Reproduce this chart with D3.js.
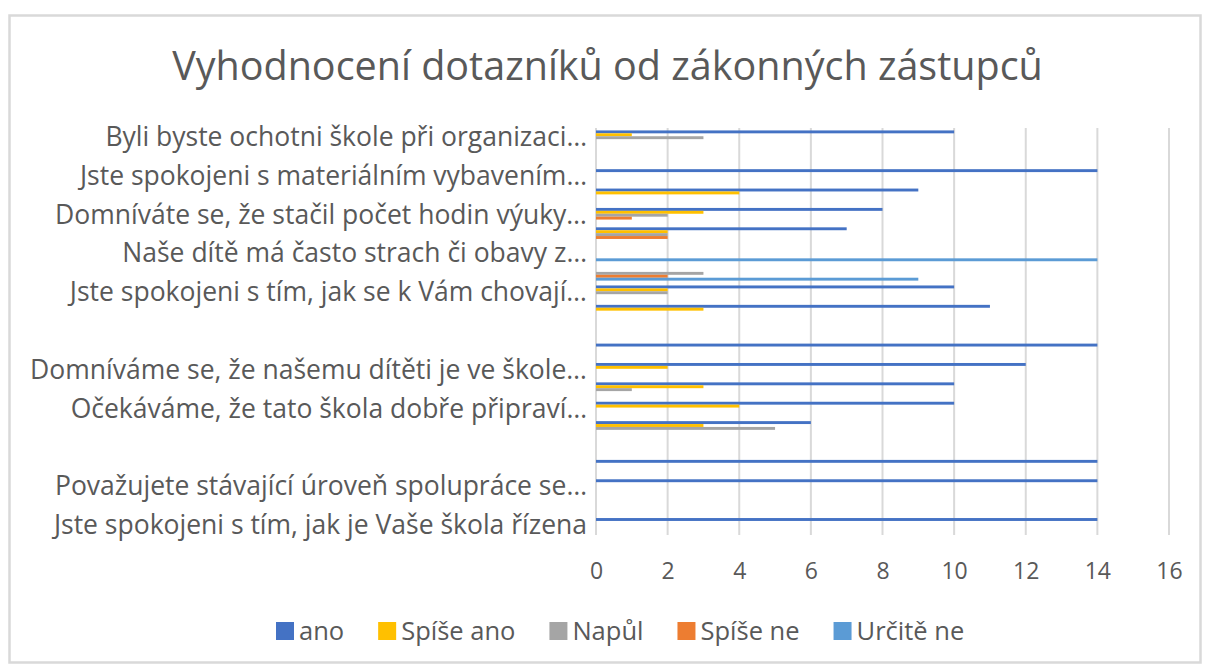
<!DOCTYPE html>
<html>
<head>
<meta charset="utf-8">
<script src="https://cdn.jsdelivr.net/npm/d3@7"></script>
<style>
  html, body { margin: 0; padding: 0; background: #ffffff; }
  svg { display: block; }
  text { font-family: "Open Sans", "Noto Sans", sans-serif; fill: #595959; }
</style>
</head>
<body>
<svg id="chart" width="1210" height="669"></svg>
<script>
// ---- data ----
const title = "Vyhodnocení dotazníků od zákonných zástupců";
const categories = [
  "Byli byste ochotni škole při organizaci…",
  "",
  "Jste spokojeni s materiálním vybavením…",
  "",
  "Domníváte se, že stačil počet hodin výuky…",
  "",
  "Naše dítě má často strach či obavy z…",
  "",
  "Jste spokojeni s tím, jak se k Vám chovají…",
  "",
  "",
  "",
  "Domníváme se, že našemu dítěti je ve škole…",
  "",
  "Očekáváme, že tato škola dobře připraví…",
  "",
  "",
  "",
  "Považujete stávající úroveň spolupráce se…",
  "",
  "Jste spokojeni s tím, jak je Vaše škola řízena"
];
const seriesNames = ["ano", "Spíše ano", "Napůl", "Spíše ne", "Určitě ne"];
const ano      = [10, 0, 14, 9, 8, 7, 0, 0, 10, 11, 0, 14, 12, 10, 10, 6, 0, 14, 14, 0, 14];
const spiseAno = [ 1, 0,  0, 4, 3, 2, 0, 0,  2,  3, 0,  0,  2,  3,  4, 3, 0,  0,  0, 0,  0];
const napul    = [ 3, 0,  0, 0, 2, 2, 0, 3,  2,  0, 0,  0,  0,  1,  0, 5, 0,  0,  0, 0,  0];
const spiseNe  = [ 0, 0,  0, 0, 1, 2, 0, 2,  0,  0, 0,  0,  0,  0,  0, 0, 0,  0,  0, 0,  0];
const uriteNe  = [ 0, 0,  0, 0, 0, 0,14, 9,  0,  0, 0,  0,  0,  0,  0, 0, 0,  0,  0, 0,  0];
const xTicks = [0, 2, 4, 6, 8, 10, 12, 14, 16];
const colors = ["#4472C4", "#FFC000", "#A5A5A5", "#ED7D31", "#5B9BD5"];

const seriesValues = [ano, spiseAno, napul, spiseNe, uriteNe];

// ---- layout ----
const svg = d3.select("#chart");
const plot = { left: 596, right: 1169, top: 128, bottom: 535 };

// chart border
svg.append("rect")
  .attr("x", 9.5).attr("y", 15.5)
  .attr("width", 1191).attr("height", 647)
  .attr("fill", "#ffffff")
  .attr("stroke", "#D9D9D9").attr("stroke-width", 2.5);

// title
svg.append("text")
  .attr("x", 607.5).attr("y", 80)
  .attr("text-anchor", "middle")
  .style("font-size", "39.5px")
  .text(title);

const x = d3.scaleLinear().domain([0, 16]).range([plot.left, plot.right]);
const idx = d3.range(categories.length);
const y0 = d3.scaleBand().domain(idx).range([plot.top, plot.bottom])
  .paddingInner(0.25).paddingOuter(0.125);
const y1 = d3.scaleBand().domain(d3.range(seriesNames.length)).range([0, y0.bandwidth()]);

// gridlines
svg.append("g")
  .selectAll("line")
  .data(xTicks)
  .join("line")
  .attr("x1", d => x(d)).attr("x2", d => x(d))
  .attr("y1", plot.top).attr("y2", plot.bottom)
  .attr("stroke", "#D9D9D9").attr("stroke-width", 2);

// bars
const rows = [];
idx.forEach(i => seriesValues.forEach((vals, s) => {
  rows.push({ i, s, v: vals[i] });
}));
svg.append("g")
  .selectAll("rect")
  .data(rows.filter(d => d.v > 0))
  .join("rect")
  .attr("x", x(0))
  .attr("y", d => y0(d.i) + y1(d.s))
  .attr("width", d => x(d.v) - x(0))
  .attr("height", y1.bandwidth())
  .attr("fill", d => colors[d.s]);

// category axis labels
const yAxis = d3.axisLeft(d3.scaleBand().domain(idx).range([plot.top, plot.bottom]))
  .tickSize(0).tickPadding(0)
  .tickFormat(i => categories[i]);
const gy = svg.append("g").attr("transform", `translate(${plot.left - 9},0)`).call(yAxis);
gy.select(".domain").remove();
gy.selectAll("text")
  .attr("fill", "#595959")
  .style("font-family", "\"Open Sans\", sans-serif")
  .style("font-size", "26.5px");

// value axis labels
const xAxis = d3.axisBottom(x).tickValues(xTicks).tickSize(0).tickPadding(0)
  .tickFormat(d3.format("d"));
const gx = svg.append("g").attr("transform", `translate(0,563)`).call(xAxis);
gx.select(".domain").remove();
gx.selectAll("text")
  .attr("fill", "#595959")
  .style("font-family", "\"Open Sans\", sans-serif")
  .style("font-size", "23px");

// legend
const legend = svg.append("g").attr("transform", "translate(0,631)");
let lx = 276;
seriesNames.forEach((name, s) => {
  const g = legend.append("g").attr("transform", `translate(${lx},0)`);
  g.append("rect").attr("x", 0).attr("y", -9).attr("width", 18).attr("height", 18)
    .attr("fill", colors[s]);
  const t = g.append("text").attr("x", 23).attr("y", 0).attr("dy", "0.36em")
    .style("font-size", "25.5px").text(name);
  lx += 23 + t.node().getComputedTextLength() + 34;
});
</script>
</body>
</html>
